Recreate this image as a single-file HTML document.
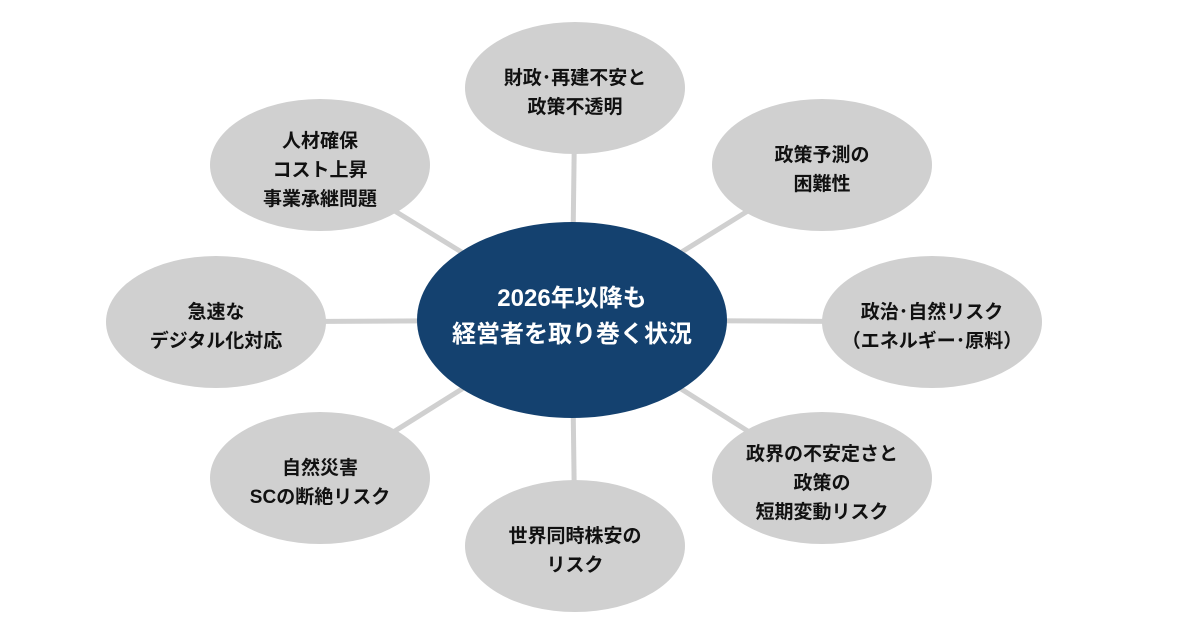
<!DOCTYPE html>
<html><head><meta charset="utf-8"><style>
html,body{margin:0;padding:0;background:#fff;}
svg{display:block;}
text{font-family:"Liberation Sans","Noto Sans CJK JP",sans-serif;font-weight:bold;}
</style></head><body>
<svg width="1177" height="642" viewBox="0 0 1177 642">
<g stroke="#d0d0d0" stroke-width="5">
<line x1="572" y1="320" x2="575" y2="88"/>
<line x1="572" y1="320" x2="822" y2="165"/>
<line x1="572" y1="320" x2="932" y2="322"/>
<line x1="572" y1="320" x2="822" y2="478"/>
<line x1="572" y1="320" x2="575" y2="548"/>
<line x1="572" y1="320" x2="320" y2="478"/>
<line x1="572" y1="320" x2="216" y2="322"/>
<line x1="572" y1="320" x2="320" y2="165"/>
</g>
<g fill="#d0d0d0">
<ellipse cx="575" cy="88" rx="110" ry="66"/>
<ellipse cx="822" cy="165" rx="110" ry="66"/>
<ellipse cx="932" cy="322" rx="110" ry="66"/>
<ellipse cx="822" cy="478" rx="110" ry="66"/>
<ellipse cx="575" cy="546" rx="110" ry="66"/>
<ellipse cx="320" cy="478" rx="110" ry="66"/>
<ellipse cx="216" cy="322" rx="110" ry="66"/>
<ellipse cx="320" cy="165" rx="110" ry="66"/>
</g>
<ellipse cx="572" cy="320" rx="155" ry="98" fill="#14416f"/>
<g fill="#fff" font-size="24" text-anchor="middle">
<text x="572" y="306">2026年以降も</text>
<text x="572" y="342">経営者を取り巻く状況</text>
</g>
<g fill="#111" font-size="19" text-anchor="middle">
<text x="575" y="84">財政･再建不安と</text>
<text x="575" y="113">政策不透明</text>
<text x="822" y="161">政策予測の</text>
<text x="822" y="190">困難性</text>
<text x="932" y="318">政治･自然リスク</text>
<text x="932" y="347">（エネルギー･原料）</text>
<text x="822" y="460">政界の不安定さと</text>
<text x="822" y="489">政策の</text>
<text x="822" y="518">短期変動リスク</text>
<text x="575" y="542">世界同時株安の</text>
<text x="575" y="571">リスク</text>
<text x="320" y="474">自然災害</text>
<text x="320" y="503">SCの断絶リスク</text>
<text x="216" y="318">急速な</text>
<text x="216" y="347">デジタル化対応</text>
<text x="320" y="147">人材確保</text>
<text x="320" y="176">コスト上昇</text>
<text x="320" y="205">事業承継問題</text>
</g>
</svg>
</body></html>
